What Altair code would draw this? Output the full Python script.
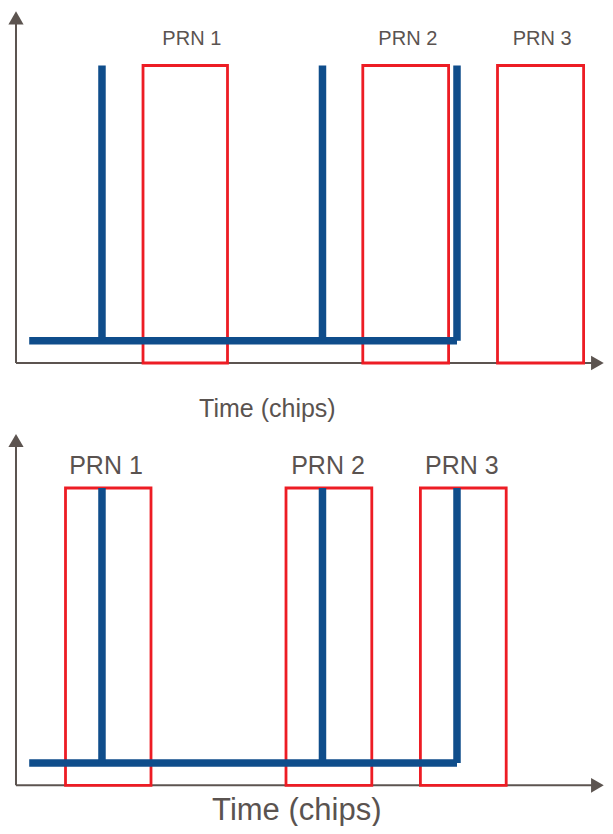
import altair as alt
import pandas as pd

# ---------------- data (chips / signal level) ----------------
prn_labels = ["PRN 1", "PRN 2", "PRN 3"]
pulse_times = [14.33, 51.08, 73.5]          # blue correlation peaks (chips)
signal_start = 2.2
signal_floor = 0.75
signal_peak = 10.0

top_prn_start = [21.17, 57.8, 80.25]
top_prn_end = [35.25, 72.1, 94.6]
top_label_x = [29.3, 65.3, 87.7]

bottom_prn_start = [8.25, 45.0, 67.4]
bottom_prn_end = [22.5, 59.3, 81.7]
bottom_label_x = [15.0, 52.0, 74.3]

x_title = "Time (chips)"

# ---------------- style ----------------
BLUE = "#0f4d8b"
RED = "#ed1c24"
GREY = "#5c5450"
TEXT = "#5a5350"
FONT = "Liberation Sans"

X_DOMAIN = [-1.3333, 98.1667]
W = 597


def panel(prn_start, prn_end, label_x, label_y, label_size,
          title_x, title_y, title_size, y_domain, height, arrow_y, x_arrow):
    xs = alt.Scale(domain=X_DOMAIN, nice=False, zero=False)
    ys = alt.Scale(domain=y_domain, nice=False, zero=False)

    def X(f):
        return alt.X(f, type="quantitative", scale=xs, axis=None)

    def Y(f):
        return alt.Y(f, type="quantitative", scale=ys, axis=None)

    axes_df = pd.DataFrame({
        "x": [0.0, 0.0], "x2": [0.0, x_arrow],
        "y": [0.0, 0.0], "y2": [arrow_y, 0.0],
    })
    axes = alt.Chart(axes_df).mark_rule(color=GREY, strokeWidth=2).encode(
        x=X("x"), x2="x2", y=Y("y"), y2="y2")

    up_arrow = alt.Chart(pd.DataFrame({"x": [0.0], "y": [arrow_y]})).mark_point(
        shape="triangle-up", filled=True, size=230, color=GREY, opacity=1
    ).encode(x=X("x"), y=Y("y"))

    right_arrow = alt.Chart(pd.DataFrame({"x": [x_arrow], "y": [0.0]})).mark_point(
        shape="triangle-right", filled=True, size=216, color=GREY, opacity=1
    ).encode(x=X("x"), y=Y("y"))

    rect_df = pd.DataFrame({
        "x": prn_start, "x2": prn_end,
        "y": [0.0] * len(prn_start), "y2": [signal_peak] * len(prn_start),
    })
    rects = alt.Chart(rect_df).mark_rect(
        stroke=RED, strokeWidth=2.8, fillOpacity=0
    ).encode(x=X("x"), x2="x2", y=Y("y"), y2="y2")

    base_df = pd.DataFrame({"x": [signal_start], "x2": [pulse_times[-1]],
                            "y": [signal_floor]})
    baseline = alt.Chart(base_df).mark_rule(
        color=BLUE, strokeWidth=7.5, strokeCap="butt"
    ).encode(x=X("x"), x2="x2", y=Y("y"))

    spike_df = pd.DataFrame({
        "x": pulse_times,
        "y": [signal_floor] * len(pulse_times),
        "y2": [signal_peak] * len(pulse_times),
    })
    spikes = alt.Chart(spike_df).mark_rule(
        color=BLUE, strokeWidth=7.5, strokeCap="butt"
    ).encode(x=X("x"), y=Y("y"), y2="y2")

    lab_df = pd.DataFrame({"x": label_x, "y": [label_y] * len(label_x),
                           "t": prn_labels})
    labels = alt.Chart(lab_df).mark_text(
        align="center", baseline="alphabetic", font=FONT,
        fontSize=label_size, color=TEXT
    ).encode(x=X("x"), y=Y("y"), text="t:N")

    title_df = pd.DataFrame({"x": [title_x], "y": [title_y], "t": [x_title]})
    title = alt.Chart(title_df).mark_text(
        align="center", baseline="alphabetic", font=FONT,
        fontSize=title_size, color=TEXT
    ).encode(x=X("x"), y=Y("y"), text="t:N")

    return alt.layer(
        axes, up_arrow, right_arrow, rects, baseline, spikes, labels, title
    ).properties(width=W, height=height)


top = panel(top_prn_start, top_prn_end, top_label_x, 10.69, 20,
            41.9, -1.8, 25, [-2.084, 11.933], 417, 11.6, 96.9)
bottom = panel(bottom_prn_start, bottom_prn_end, bottom_label_x, 10.47, 25,
               46.8, -1.15, 31, [-1.335, 12.12], 400, 11.6, 96.9)

chart = alt.vconcat(top, bottom, spacing=0).properties(
    padding=0, background="white"
).configure_view(strokeOpacity=0)

chart.save("out.html", embed_options={"renderer": "svg", "actions": False})
